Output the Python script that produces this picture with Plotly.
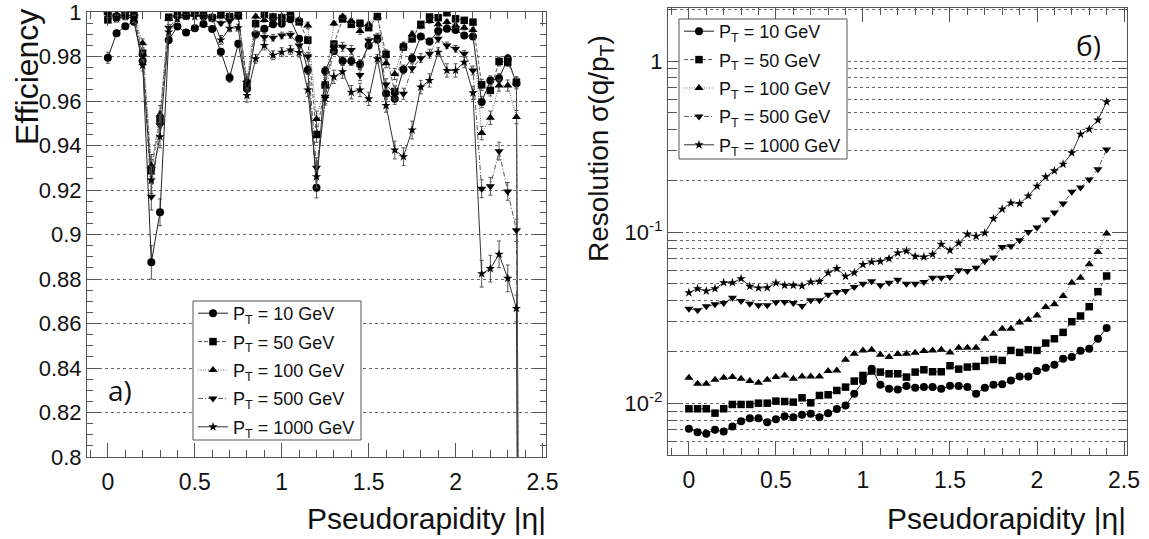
import plotly.graph_objects as go

# ---------------- data ----------------
eta = [0.0, 0.05, 0.1, 0.15, 0.2, 0.25, 0.3, 0.35, 0.4, 0.45, 0.5, 0.55, 0.6, 0.65, 0.7, 0.75,
       0.8, 0.85, 0.9, 0.95, 1.0, 1.05, 1.1, 1.15, 1.2, 1.25, 1.3, 1.35, 1.4, 1.45, 1.5, 1.55,
       1.6, 1.65, 1.7, 1.75, 1.8, 1.85, 1.9, 1.95, 2.0, 2.05, 2.1, 2.15, 2.2, 2.25, 2.3, 2.35, 2.4]

labels = ["P<sub>T</sub> = 10 GeV", "P<sub>T</sub> = 50 GeV", "P<sub>T</sub> = 100 GeV",
          "P<sub>T</sub> = 500 GeV", "P<sub>T</sub> = 1000 GeV"]

# efficiency (panel a)
eff_10 = [0.9795, 0.9905, 0.9937, 0.9957, 0.978, 0.8875, 0.910, 0.9875, 0.9935, 0.9908, 0.9928, 0.9946,
          0.9924, 0.9822, 0.9705, 0.9858, 0.9655, 0.990, 0.9925, 0.9945, 0.9948, 0.9968, 0.988, 0.974,
          0.921, 0.9735, 0.9825, 0.978, 0.978, 0.9766, 0.985, 0.9877, 0.9634, 0.961, 0.9742, 0.9793,
          0.989, 0.9868, 0.9915, 0.9925, 0.992, 0.9895, 0.989, 0.9596, 0.9693, 0.9703, 0.979, 0.968, 0.0]
eff_50 = [0.9965, 0.9978, 0.9985, 0.9987, 0.9815, 0.9287, 0.9515, 0.9977, 0.999, 0.9985, 0.9995, 0.9985,
          0.9975, 0.999, 0.998, 0.9984, 0.9665, 0.9948, 0.999, 0.9978, 0.9975, 0.9994, 0.9956, 0.9874,
          0.945, 0.9672, 0.9856, 0.9969, 0.9945, 0.995, 0.993, 0.998, 0.981, 0.9643, 0.9843, 0.988,
          0.9945, 0.9978, 0.9975, 0.9997, 0.997, 0.9963, 0.9955, 0.9673, 0.9648, 0.9778, 0.9775, 0.9685, 0.0]
eff_100 = [0.9995, 0.999, 0.999, 0.999, 0.986, 0.931, 0.954, 0.997, 0.999, 0.9993, 0.999, 0.999,
           0.998, 0.998, 0.998, 0.998, 0.9695, 0.998, 0.9965, 0.998, 0.998, 0.9995, 0.9965, 0.994,
           0.952, 0.968, 0.9949, 0.998, 0.996, 0.9915, 0.9945, 0.998, 0.977, 0.9722, 0.985, 0.99,
           0.9935, 0.996, 0.9945, 0.9955, 0.994, 0.993, 0.992, 0.9456, 0.9525, 0.967, 0.967, 0.9528, 0.0]
eff_500 = [0.999, 0.998, 0.999, 0.998, 0.980, 0.917, 0.949, 0.993, 0.9975, 0.998, 0.999, 0.998,
           0.997, 0.995, 0.996, 0.998, 0.968, 0.9898, 0.9888, 0.9885, 0.9895, 0.9898, 0.985, 0.980,
           0.930, 0.962, 0.984, 0.9844, 0.983, 0.9717, 0.9872, 0.989, 0.9675, 0.963, 0.9633, 0.9748,
           0.9793, 0.9813, 0.988, 0.985, 0.9835, 0.9813, 0.9738, 0.9206, 0.9217, 0.9375, 0.9194, 0.9019, 0.0]
eff_1000 = [0.999, 0.997, 0.998, 0.997, 0.976, 0.9245, 0.944, 0.991, 0.997, 0.998, 0.998, 0.998,
            0.9975, 0.9875, 0.9927, 0.993, 0.9625, 0.979, 0.985, 0.9806, 0.982, 0.983, 0.9818, 0.965,
            0.926, 0.9612, 0.9709, 0.9732, 0.964, 0.965, 0.961, 0.979, 0.958, 0.938, 0.935, 0.947,
            0.9663, 0.9693, 0.982, 0.9738, 0.9738, 0.9775, 0.9637, 0.8824, 0.8847, 0.8911, 0.8803, 0.8668, 0.0]

err_10 = [0.0025, 0.0012, 0.001, 0.001, 0.002, 0.0075, 0.006, 0.0015, 0.001, 0.001, 0.001, 0.001, 0.001,
          0.0015, 0.002, 0.0015, 0.0025, 0.001, 0.001, 0.001, 0.001, 0.001, 0.0015, 0.002, 0.0045, 0.002,
          0.0015, 0.002, 0.002, 0.002, 0.0015, 0.0015, 0.0025, 0.0025, 0.002, 0.002, 0.0012, 0.0015, 0.001,
          0.001, 0.001, 0.0012, 0.0012, 0.0025, 0.002, 0.002, 0.002, 0.0025, 0]
err_50 = [0.001, 0.001, 0.001, 0.001, 0.002, 0.005, 0.004, 0.001, 0.001, 0.001, 0.001, 0.001, 0.001,
          0.001, 0.001, 0.001, 0.0025, 0.001, 0.001, 0.001, 0.001, 0.001, 0.001, 0.0015, 0.0035, 0.0025,
          0.0015, 0.001, 0.001, 0.001, 0.001, 0.001, 0.002, 0.0025, 0.0015, 0.0015, 0.001, 0.001, 0.001,
          0.001, 0.001, 0.001, 0.001, 0.0025, 0.0025, 0.002, 0.002, 0.0025, 0]
err_100 = [0.001, 0.001, 0.001, 0.001, 0.002, 0.005, 0.004, 0.001, 0.001, 0.001, 0.001, 0.001, 0.001,
           0.001, 0.001, 0.001, 0.0025, 0.001, 0.001, 0.001, 0.001, 0.001, 0.001, 0.0015, 0.0035, 0.0025,
           0.001, 0.001, 0.001, 0.0015, 0.001, 0.001, 0.002, 0.0025, 0.0015, 0.0015, 0.001, 0.001, 0.001,
           0.001, 0.001, 0.001, 0.001, 0.003, 0.003, 0.0025, 0.0025, 0.003, 0]
err_500 = [0.001, 0.001, 0.001, 0.001, 0.002, 0.006, 0.005, 0.0015, 0.001, 0.001, 0.001, 0.001, 0.001,
           0.001, 0.001, 0.001, 0.0025, 0.0015, 0.0015, 0.0015, 0.0015, 0.0015, 0.0015, 0.002, 0.0045, 0.003,
           0.002, 0.002, 0.002, 0.0025, 0.0015, 0.0015, 0.0025, 0.0025, 0.0025, 0.002, 0.002, 0.002, 0.0015,
           0.0015, 0.0015, 0.0015, 0.002, 0.004, 0.004, 0.004, 0.004, 0.005, 0]
err_1000 = [0.0015, 0.0015, 0.0015, 0.0015, 0.0025, 0.006, 0.005, 0.0015, 0.0012, 0.001, 0.001, 0.001,
            0.0012, 0.002, 0.0015, 0.0015, 0.003, 0.002, 0.002, 0.002, 0.002, 0.002, 0.002, 0.003, 0.005,
            0.003, 0.003, 0.003, 0.003, 0.003, 0.003, 0.002, 0.003, 0.004, 0.004, 0.004, 0.003, 0.003, 0.002,
            0.003, 0.003, 0.0025, 0.003, 0.006, 0.006, 0.006, 0.006, 0.006, 0]

# resolution sigma(q/pT) (panel b)
res_10 = [0.00711, 0.00680, 0.00665, 0.00702, 0.00686, 0.00734, 0.00788, 0.00821, 0.00821, 0.00778,
          0.00810, 0.00843, 0.00832, 0.00859, 0.00870, 0.00832, 0.00878, 0.00927, 0.00973, 0.01139,
          0.01351, 0.01595, 0.01286, 0.01218, 0.01207, 0.01263, 0.01235, 0.01246, 0.01246, 0.01218,
          0.01269, 0.01263, 0.01246, 0.01139, 0.01235, 0.01286, 0.01297, 0.01363, 0.01439, 0.01439,
          0.01546, 0.01617, 0.01683, 0.01825, 0.01866, 0.02032, 0.02088, 0.02389, 0.02758]
res_50 = [0.00931, 0.00931, 0.00931, 0.00878, 0.00931, 0.00987, 0.00987, 0.00987, 0.01004, 0.01004,
          0.01032, 0.01027, 0.01018, 0.01079, 0.01009, 0.01114, 0.01124, 0.01191, 0.01246, 0.01351,
          0.01458, 0.01546, 0.01525, 0.01491, 0.01491, 0.01426, 0.01525, 0.01573, 0.01532, 0.01532,
          0.01661, 0.01588, 0.01631, 0.01646, 0.01784, 0.01808, 0.01784, 0.02041, 0.01987, 0.02060,
          0.02041, 0.02253, 0.02389, 0.02602, 0.03003, 0.03242, 0.03675, 0.04498, 0.05554]
res_100 = [0.01413, 0.01303, 0.01303, 0.01375, 0.01413, 0.01426, 0.01394, 0.01351, 0.01321, 0.01375,
           0.01426, 0.01458, 0.01394, 0.01439, 0.01439, 0.01439, 0.01546, 0.01560, 0.01800, 0.01952,
           0.02041, 0.02060, 0.01926, 0.01866, 0.01943, 0.01952, 0.01978, 0.02023, 0.02041, 0.02060,
           0.01987, 0.02116, 0.02116, 0.02116, 0.02389, 0.02555, 0.02734, 0.02734, 0.02976, 0.03085,
           0.03270, 0.03659, 0.03794, 0.04244, 0.05078, 0.05431, 0.06500, 0.07674, 0.09822]
res_500 = [0.03578, 0.03499, 0.03692, 0.03794, 0.03862, 0.04149, 0.03967, 0.03829, 0.03742, 0.03742,
           0.03897, 0.03914, 0.03862, 0.03709, 0.04003, 0.04003, 0.04320, 0.04477, 0.04538, 0.04790,
           0.05010, 0.05170, 0.04899, 0.05078, 0.05287, 0.05010, 0.05010, 0.05124, 0.05431, 0.05431,
           0.05480, 0.05994, 0.05940, 0.06213, 0.06767, 0.07111, 0.08208, 0.08282, 0.08978, 0.1004,
           0.1065, 0.1186, 0.1303, 0.1472, 0.1722, 0.1825, 0.2032, 0.2335, 0.3045]
res_1000 = [0.04438, 0.04684, 0.04538, 0.04684, 0.05078, 0.05078, 0.05359, 0.04833, 0.04726, 0.04747,
            0.05055, 0.04899, 0.04899, 0.04855, 0.05124, 0.05170, 0.05782, 0.06133, 0.05530, 0.05808,
            0.06471, 0.06707, 0.06767, 0.07015, 0.07571, 0.07778, 0.07238, 0.07173, 0.07436, 0.08506,
            0.07848, 0.08661, 0.09734, 0.09476, 0.09911, 0.1202, 0.1363, 0.1484, 0.1472, 0.1631,
            0.1858, 0.2107, 0.2284, 0.2499, 0.2909, 0.374, 0.400, 0.452, 0.578]

eff_series = [eff_10, eff_50, eff_100, eff_500, eff_1000]
err_series = [err_10, err_50, err_100, err_500, err_1000]
res_series = [res_10, res_50, res_100, res_500, res_1000]
for s in eff_series + err_series + res_series:
    assert len(s) == len(eta), len(s)

eff_ticks = [0.8, 0.82, 0.84, 0.86, 0.88, 0.9, 0.92, 0.94, 0.96, 0.98, 1.0]
eff_ticktext = ["0.8", "0.82", "0.84", "0.86", "0.88", "0.9", "0.92", "0.94", "0.96", "0.98", "1"]
x_ticks = [0, 0.5, 1, 1.5, 2, 2.5]
x_ticktext = ["0", "0.5", "1", "1.5", "2", "2.5"]
res_ticks = [0.01, 0.1, 1]
res_ticktext = ["10<sup>-2</sup>", "10<sup>-1</sup>", "1"]
res_minor = [0.005, 0.006, 0.007, 0.008, 0.009, 0.02, 0.03, 0.04, 0.05, 0.06, 0.07, 0.08, 0.09,
             0.2, 0.3, 0.4, 0.5, 0.6, 0.7, 0.8, 0.9, 2]

# ---------------- styles ----------------
symbols = ["circle", "square", "triangle-up", "triangle-down", "star"]
msizes = [8, 7.5, 8, 8, 7]
dashes = ["solid", "4px,2px", "1px,1.5px", "5px,2px,1px,2px", "solid"]
lcolors = ["#222", "#555", "#666", "#555", "#333"]
FONT = "Liberation Sans, Arial, sans-serif"
FRAME = "#555"

fig = go.Figure()

for i in range(5):
    fig.add_trace(go.Scatter(
        x=eta, y=eff_series[i], mode="lines+markers", name=labels[i],
        xaxis="x", yaxis="y", legend="legend", legendgroup="a%d" % i,
        line=dict(color=lcolors[i], width=1, dash=dashes[i]),
        marker=dict(symbol=symbols[i], size=msizes[i], color="black"),
        error_y=dict(type="data", array=err_series[i], color="#555", thickness=1, width=2),
    ))

for i in range(5):
    fig.add_trace(go.Scatter(
        x=eta, y=res_series[i], mode="lines+markers", name=labels[i],
        xaxis="x2", yaxis="y2", legend="legend2", legendgroup="b%d" % i,
        line=dict(color=lcolors[i], width=1, dash=dashes[i]),
        marker=dict(symbol=symbols[i], size=msizes[i], color="black"),
    ))

W, H = 1149, 539
common_x = dict(
    tickmode="array", tickvals=x_ticks, ticktext=x_ticktext, automargin=False,
    ticks="inside", ticklen=14, tickcolor=FRAME, mirror="allticks",
    showline=True, linecolor=FRAME, linewidth=1, showgrid=False, zeroline=False,
    tickfont=dict(family=FONT, size=23, color="#111"), ticklabelstandoff=4,
    minor=dict(dtick=0.1, tick0=0, ticks="inside", ticklen=7, tickcolor=FRAME, showgrid=False),
)

legend_common = dict(xanchor="left", yanchor="top", borderwidth=0, bgcolor="rgba(0,0,0,0)",
                     tracegroupgap=2, font=dict(family=FONT, size=18, color="#111"), itemwidth=30)

fig.update_layout(
    width=W, height=H, margin=dict(l=0, r=0, t=0, b=0, autoexpand=False),
    paper_bgcolor="white", plot_bgcolor="white", showlegend=True,
    xaxis=dict(domain=[87 / W, 546 / W], range=[-0.12, 2.52], anchor="y", **common_x),
    yaxis=dict(
        domain=[1 - 457 / H, 1 - 12 / H], range=[0.8, 1.00005], anchor="x", automargin=False,
        tickmode="array", tickvals=eff_ticks, ticktext=eff_ticktext,
        ticks="inside", ticklen=12, tickcolor=FRAME, mirror="allticks",
        showline=True, linecolor=FRAME, linewidth=1, zeroline=False,
        showgrid=True, gridcolor="#666", griddash="dot", gridwidth=1,
        tickfont=dict(family=FONT, size=22, color="#111"), ticklabeloverflow="allow",
        minor=dict(dtick=0.005, tick0=0.8, ticks="inside", ticklen=6, tickcolor=FRAME, showgrid=False),
    ),
    xaxis2=dict(domain=[668 / W, 1127 / W], range=[-0.12, 2.517], anchor="y2", **common_x),
    yaxis2=dict(
        domain=[1 - 455 / H, 1 - 8 / H], type="log", range=[-2.301, 0.31], anchor="x2", automargin=False,
        tickmode="array", tickvals=res_ticks, ticktext=res_ticktext,
        ticks="inside", ticklen=15, tickcolor=FRAME, mirror="allticks",
        showline=True, linecolor=FRAME, linewidth=1, zeroline=False,
        showgrid=True, gridcolor="#666", griddash="dot", gridwidth=1,
        tickfont=dict(family=FONT, size=22, color="#111"), ticklabeloverflow="allow",
        minor=dict(tickmode="array", tickvals=res_minor, ticks="inside", ticklen=8, tickcolor=FRAME,
                   showgrid=True, gridcolor="#666", griddash="dot", gridwidth=1),
    ),
    legend=dict(x=193 / W, y=1 - 295 / H, **legend_common),
    legend2=dict(x=679 / W, y=1 - 13 / H, **legend_common),
    shapes=[
        dict(type="rect", xref="paper", yref="paper", x0=193 / W, x1=361 / W,
             y0=1 - 440 / H, y1=1 - 301 / H, fillcolor="white", line=dict(color=FRAME, width=1),
             layer="above"),
        dict(type="rect", xref="paper", yref="paper", x0=679 / W, x1=847 / W,
             y0=1 - 159 / H, y1=1 - 19 / H, fillcolor="white", line=dict(color=FRAME, width=1),
             layer="above"),
    ],
    annotations=[
        dict(text="Efficiency", x=27 / W, y=1 - 77 / H, xref="paper", yref="paper",
             textangle=-90, showarrow=False, xanchor="center", yanchor="middle",
             font=dict(family=FONT, size=32, color="#111")),
        dict(text="Resolution σ(q/p<sub>T</sub>)", x=600 / W, y=1 - 149 / H, xref="paper", yref="paper",
             textangle=-90, showarrow=False, xanchor="center", yanchor="middle",
             font=dict(family=FONT, size=28, color="#111")),
        dict(text="Pseudorapidity |η|", x=548 / W, y=1 - 518 / H, xref="paper", yref="paper",
             showarrow=False, xanchor="right", yanchor="middle",
             font=dict(family=FONT, size=30, color="#111")),
        dict(text="Pseudorapidity |η|", x=1128 / W, y=1 - 518 / H, xref="paper", yref="paper",
             showarrow=False, xanchor="right", yanchor="middle",
             font=dict(family=FONT, size=30, color="#111")),
        dict(text="а)", x=120 / W, y=1 - 390 / H, xref="paper", yref="paper",
             showarrow=False, xanchor="center", yanchor="middle",
             font=dict(family="Open Sans, sans-serif", size=28, color="#111")),
        dict(text="б)", x=1088 / W, y=1 - 45 / H, xref="paper", yref="paper",
             showarrow=False, xanchor="center", yanchor="middle",
             font=dict(family="Open Sans, sans-serif", size=28, color="#111")),
    ],
)

fig.write_html("out.html")
